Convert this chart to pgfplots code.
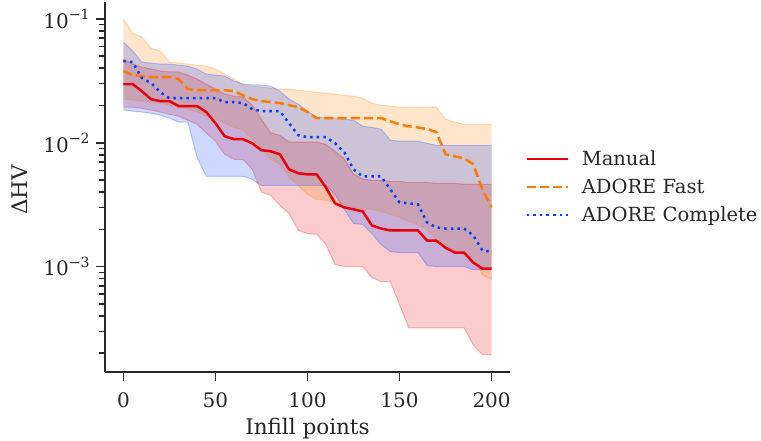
\documentclass[border=0pt]{standalone}
\usepackage{pgfplots}
\pgfplotsset{compat=1.18}
\usepackage{pgfplotstable}
\usepgfplotslibrary{fillbetween}
\usepackage{fontspec}
\setmainfont{DejaVu Serif}

\definecolor{cred}{HTML}{E8000B}
\definecolor{corange}{HTML}{FF7C00}
\definecolor{cblue}{HTML}{023EFF}
\definecolor{ink}{HTML}{262626}
\newcommand{\fs}{\fontsize{20}{24}\selectfont}
\newcommand{\fg}{\fontsize{19.5}{23}\selectfont}
\newcommand{\fl}{\fontsize{21.5}{26}\selectfont}
\newcommand{\dec}[1]{10\raisebox{0.42em}{\fontsize{14}{16}\selectfont −#1}}

\pgfplotsset{legend image code/.code={\draw[#1] (0pt,0pt) -- (41pt,0pt);}}

% x = infill points, lo/med/hi = Delta HV band and median
\pgfplotstableread{
x lo med hi
0 0.0194 0.0298 0.0474
5 0.0194 0.0298 0.0432
10 0.0190 0.0261 0.0409
15 0.0184 0.0225 0.0394
20 0.0177 0.0217 0.0380
25 0.0170 0.0217 0.0373
30 0.0164 0.0198 0.0373
35 0.0152 0.0198 0.0352
40 0.0141 0.0198 0.0327
45 0.0120 0.0177 0.0298
50 0.0103 0.0144 0.0271
55 0.00807 0.0113 0.0247
60 0.00735 0.0107 0.0238
65 0.00735 0.0107 0.0234
70 0.0061 0.0099 0.0201
75 0.0040 0.0087 0.0155
80 0.00376 0.00854 0.0120
85 0.00312 0.00807 0.0115
90 0.00268 0.0061 0.0101
95 0.00196 0.00567 0.0101
100 0.00185 0.00556 0.0101
105 0.00182 0.00556 0.0101
110 0.00151 0.00436 0.0097
115 0.00104 0.00324 0.0085
120 0.0010 0.00301 0.0074
125 0.0010 0.0029 0.0056
130 0.0010 0.00279 0.0051
135 0.000815 0.00215 0.00497
140 0.000756 0.00203 0.00497
145 0.000756 0.00196 0.00488
150 0.000493 0.00196 0.00488
155 0.000321 0.00196 0.00478
160 0.000321 0.00196 0.00478
165 0.000321 0.00162 0.00478
170 0.000321 0.00162 0.0047
175 0.000321 0.00142 0.0047
180 0.000321 0.0013 0.0047
185 0.000321 0.0013 0.00461
190 0.000234 0.00108 0.00461
195 0.000194 0.000963 0.00461
200 0.000194 0.000963 0.00461
}\manual

\pgfplotstableread{
x lo med hi
0 0.0225 0.0380 0.1
5 0.0221 0.0352 0.0770
10 0.0217 0.0346 0.0715
15 0.0213 0.0339 0.0582
20 0.0209 0.0339 0.0551
25 0.0201 0.0339 0.0448
30 0.0194 0.0327 0.0440
35 0.0187 0.0271 0.0432
40 0.0177 0.0266 0.0424
45 0.0164 0.0266 0.0416
50 0.0155 0.0266 0.0394
55 0.0144 0.0266 0.0359
60 0.0133 0.0261 0.0327
65 0.0127 0.0242 0.0293
70 0.0107 0.0225 0.0287
75 0.00886 0.0217 0.0282
80 0.00735 0.0213 0.0276
85 0.0067 0.0209 0.0271
90 0.00526 0.0201 0.0271
95 0.00452 0.0194 0.0266
100 0.00383 0.0177 0.0261
105 0.00349 0.0158 0.0256
110 0.00343 0.0158 0.0252
115 0.0033 0.0158 0.0247
120 0.00318 0.0158 0.0242
125 0.00301 0.0158 0.0238
130 0.0029 0.0158 0.0229
135 0.0029 0.0158 0.0209
140 0.00279 0.0158 0.0201
145 0.00264 0.0149 0.0198
150 0.00249 0.0141 0.0194
155 0.00231 0.0136 0.0194
160 0.00219 0.0133 0.0194
165 0.00199 0.0129 0.0194
170 0.00165 0.0122 0.0194
175 0.00142 0.00807 0.0155
180 0.0013 0.00778 0.0147
185 0.00126 0.00749 0.0141
190 0.00118 0.0067 0.0141
195 0.000861 0.0042 0.0141
200 0.000785 0.00301 0.0141
}\fast

\pgfplotstableread{
x lo med hi
0 0.0184 0.0457 0.0652
5 0.0180 0.0448 0.0551
10 0.0177 0.0333 0.0448
15 0.0173 0.0304 0.0440
20 0.0167 0.0256 0.0432
25 0.0158 0.0229 0.0432
30 0.0147 0.0229 0.0424
35 0.0147 0.0229 0.0416
40 0.00763 0.0229 0.0394
45 0.00536 0.0229 0.0359
50 0.00536 0.0229 0.0352
55 0.00536 0.0213 0.0346
60 0.00536 0.0213 0.0315
65 0.00536 0.0209 0.0298
70 0.00507 0.0187 0.0293
75 0.00452 0.0180 0.0293
80 0.00452 0.0180 0.0287
85 0.00452 0.0180 0.0261
90 0.00452 0.0144 0.0225
95 0.00452 0.0115 0.0205
100 0.00452 0.0111 0.0180
105 0.00452 0.0111 0.0161
110 0.00452 0.0111 0.0158
115 0.00383 0.0099 0.0158
120 0.0029 0.00838 0.0155
125 0.00223 0.0061 0.0152
130 0.00219 0.00536 0.0136
135 0.00185 0.00536 0.0133
140 0.00151 0.00536 0.0129
145 0.00132 0.0042 0.0105
150 0.0013 0.0033 0.0103
155 0.0013 0.00324 0.0103
160 0.0013 0.00318 0.0103
165 0.00102 0.00227 0.0099
170 0.0010 0.00207 0.00955
175 0.0010 0.00203 0.00955
180 0.0010 0.00203 0.00955
185 0.0010 0.00203 0.00955
190 0.000946 0.00179 0.00955
195 0.000946 0.00135 0.00955
200 0.000946 0.00132 0.00955
}\complete

\begin{document}
\begin{tikzpicture}
\begin{axis}[
    scale only axis,
    width=405pt, height=370pt,
    xmin=-10, xmax=210,
    ymode=log, ymin=1.41e-4, ymax=0.137,
    axis lines*=left,
    axis line style={ink, line width=1.6pt},
    tick align=outside,
    major tick length=9pt, minor tick length=5.5pt,
    tick style={ink, line width=1.5pt},
    xtick={0,50,100,150,200},
    ytick={0.001,0.01,0.1},
    yticklabels={\dec{3},\dec{2},\dec{1}},
    minor ytick={2e-4,3e-4,4e-4,5e-4,6e-4,7e-4,8e-4,9e-4,
                 2e-3,3e-3,4e-3,5e-3,6e-3,7e-3,8e-3,9e-3,
                 2e-2,3e-2,4e-2,5e-2,6e-2,7e-2,8e-2,9e-2},
    /pgf/number format/assume math mode=true,
    tick label style={font=\fs, text=ink},
    xticklabel style={yshift=-8pt},
    yticklabel style={xshift=-3pt},
    xlabel={Infill points},
    ylabel={ΔHV},
    every axis x label/.style={at={(axis description cs:0.5,0)}, anchor=base, yshift=-63pt, font=\fl, text=ink},
    every axis y label/.style={at={(axis description cs:-0.21,0.492)}, rotate=90, anchor=center, font=\fl, text=ink},
    legend style={draw=none, fill=none, font=\fg, text=ink,
        at={(1.03,0.5)}, anchor=west, row sep=8pt,
        /tikz/every odd column/.append style={column sep=11pt}},
    legend cell align=left,
]
% bands
\addplot[draw=cred, draw opacity=0.25, line width=1pt, name path=rhi, forget plot] table[x=x,y=hi]{\manual};
\addplot[draw=cred, draw opacity=0.25, line width=1pt, name path=rlo, forget plot] table[x=x,y=lo]{\manual};
\addplot[fill=cred, fill opacity=0.2, draw=none, forget plot] fill between[of=rhi and rlo];

\addplot[draw=corange, draw opacity=0.25, line width=1pt, name path=fhi, forget plot] table[x=x,y=hi]{\fast};
\addplot[draw=corange, draw opacity=0.25, line width=1pt, name path=flo, forget plot] table[x=x,y=lo]{\fast};
\addplot[fill=corange, fill opacity=0.2, draw=none, forget plot] fill between[of=fhi and flo];

\addplot[draw=cblue, draw opacity=0.25, line width=1pt, name path=chi, forget plot] table[x=x,y=hi]{\complete};
\addplot[draw=cblue, draw opacity=0.25, line width=1pt, name path=clo, forget plot] table[x=x,y=lo]{\complete};
\addplot[fill=cblue, fill opacity=0.2, draw=none, forget plot] fill between[of=chi and clo];

% medians
\addplot[cred, line width=2.5pt, line join=round] table[x=x,y=med]{\manual};
\addlegendentry{Manual}
\addplot[corange, line width=2.5pt, dash pattern=on 9.25pt off 4pt] table[x=x,y=med]{\fast};
\addlegendentry{ADORE Fast}
\addplot[cblue, line width=2.5pt, dash pattern=on 2.5pt off 4.1pt] table[x=x,y=med]{\complete};
\addlegendentry{ADORE Complete}
\end{axis}
\pgfresetboundingbox
\useasboundingbox (-105pt,-69pt) rectangle (656pt,372pt);
\end{tikzpicture}
\end{document}
